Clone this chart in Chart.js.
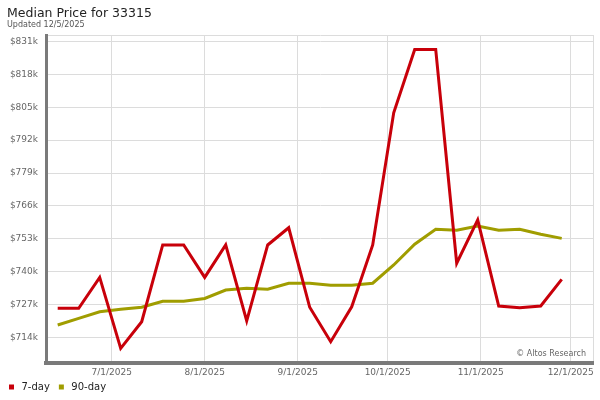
<!DOCTYPE html>
<html><head><meta charset="utf-8">
<script src="https://cdn.jsdelivr.net/npm/chart.js@4.4.1/dist/chart.umd.min.js"></script>
<style>
html,body{margin:0;padding:0;background:#fff;}
#wrap{position:relative;width:600px;height:400px;font-family:"DejaVu Sans",sans-serif;}
canvas{position:absolute;left:0;top:0;}
.t{position:absolute;white-space:nowrap;}
</style></head><body>
<div id="wrap">
<canvas id="c" width="600" height="400" style="width:600px;height:400px"></canvas>
<div class="t" style="left:7px;top:4px;font-size:12.5px;color:#222;line-height:18px;">Median Price for 33315</div>
<div class="t" style="left:7px;top:20px;font-size:8px;color:#555;line-height:10px;">Updated 12/5/2025</div>
<div class="t" style="right:14px;top:349px;font-size:8px;color:#666;line-height:10px;">© Altos Research</div>
</div>
<script>
const dates = ['2025-06-13','2025-06-20','2025-06-27','2025-07-04','2025-07-11','2025-07-18','2025-07-25',
  '2025-08-01','2025-08-08','2025-08-15','2025-08-22','2025-08-29','2025-09-05','2025-09-12','2025-09-19',
  '2025-09-26','2025-10-03','2025-10-10','2025-10-17','2025-10-24','2025-10-31','2025-11-07','2025-11-14',
  '2025-11-21','2025-11-28'];
const sevenDay = [725.6,725.6,737.8,709.8,720.3,750.6,750.6,737.8,750.6,720.6,750.6,757.4,726.0,712.4,726.2,
  750.6,802.8,827.8,827.8,743.4,760.5,726.5,725.8,726.5,737.0];
const ninetyDay = [719.0,721.6,724.2,725.2,726.0,728.4,728.4,729.5,732.8,733.5,733.1,735.5,735.5,734.7,734.7,
  735.5,742.7,750.9,756.8,756.4,758.1,756.4,756.8,754.8,753.2];
const xTickDates = ['2025-07-01','2025-08-01','2025-09-01','2025-10-01','2025-11-01','2025-12-01'];
const xTickLabels = ['7/1/2025','8/1/2025','9/1/2025','10/1/2025','11/1/2025','12/1/2025'];
const yTicks = [714,727,740,753,766,779,792,805,818,831];

const day = s => Date.parse(s + 'T00:00:00Z') / 864e5;
const xMin = day('2025-07-01') - 21.9;
const xMax = day('2025-12-01') + 7.43;
const yMin = 704.0, yMax = 833.5;
const FONT = 'DejaVu Sans';
Chart.defaults.font.family = FONT;

new Chart(document.getElementById('c'), {
  type: 'line',
  data: {
    datasets: [
      {label: '7-day', data: dates.map((d, i) => ({x: day(d), y: sevenDay[i]})),
       borderColor: '#c8000a', backgroundColor: '#c8000a', borderWidth: 3, pointRadius: 0, tension: 0},
      {label: '90-day', data: dates.map((d, i) => ({x: day(d), y: ninetyDay[i]})),
       borderColor: '#a09d00', backgroundColor: '#a09d00', borderWidth: 3, pointRadius: 0, tension: 0}
    ]
  },
  options: {
    responsive: false,
    animation: false,
    devicePixelRatio: 1,
    layout: {padding: {top: 35, right: 7, left: 0, bottom: -2}},
    plugins: {
      tooltip: {enabled: false},
      legend: {
        position: 'bottom', align: 'start',
        labels: {
          usePointStyle: true, pointStyle: 'rect', boxWidth: 10, boxHeight: 5, padding: 6.5,
          color: '#222', font: {family: FONT, size: 10},
          generateLabels(chart) {
            return Chart.defaults.plugins.legend.labels.generateLabels(chart)
              .map(l => Object.assign(l, {lineWidth: 0, pointStyle: 'rect', strokeStyle: l.fillStyle}));
          }
        }
      }
    },
    scales: {
      x: {
        type: 'linear', min: xMin, max: xMax,
        afterFit(s) { s.height = 12.5; },
        afterBuildTicks(s) { s.ticks = xTickDates.map(d => ({value: day(d)})).concat([{value: xMax}]); },
        ticks: {
          autoSkip: false, maxRotation: 0, padding: 4, color: '#666', font: {family: FONT, size: 9},
          callback(v) {
            const i = xTickDates.findIndex(d => Math.abs(day(d) - v) < 1e-6);
            return i >= 0 ? xTickLabels[i] : '';
          }
        },
        grid: {color: '#dcdcdc', lineWidth: 1, drawTicks: false},
        border: {color: '#7a7a7a', width: 4}
      },
      y: {
        min: yMin, max: yMax,
        afterFit(s) { s.width = 46; },
        afterBuildTicks(s) { s.ticks = yTicks.map(v => ({value: v})).concat([{value: yMax}]); },
        ticks: {
          padding: 8, color: '#666', font: {family: FONT, size: 9},
          callback(v) { return yTicks.includes(v) ? '$' + v + 'k' : ''; }
        },
        grid: {color: '#dcdcdc', lineWidth: 1, drawTicks: false},
        border: {color: '#7a7a7a', width: 3}
      }
    }
  }
});
</script>
</body></html>
